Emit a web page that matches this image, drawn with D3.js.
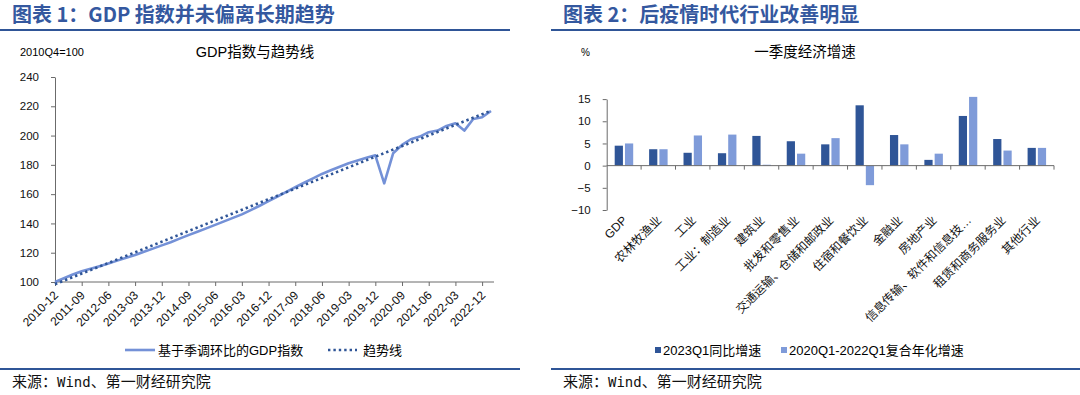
<!DOCTYPE html>
<html>
<head>
<meta charset="utf-8">
<script src="https://cdn.jsdelivr.net/npm/d3@7"></script>
<style>
    body { margin: 0; background: #fff; }
    svg { display: block; font-family: "Liberation Sans", "Noto Sans CJK SC", sans-serif; }
</style>
</head>
<body>
<svg id="chart" width="1080" height="395"></svg>
<script>
// ---- Chart 1 data: GDP index (2010Q4=100) ----
const quarters = [
    "2010-12",
    "2011-03", "2011-06", "2011-09", "2011-12",
    "2012-03", "2012-06", "2012-09", "2012-12",
    "2013-03", "2013-06", "2013-09", "2013-12",
    "2014-03", "2014-06", "2014-09", "2014-12",
    "2015-03", "2015-06", "2015-09", "2015-12",
    "2016-03", "2016-06", "2016-09", "2016-12",
    "2017-03", "2017-06", "2017-09", "2017-12",
    "2018-03", "2018-06", "2018-09", "2018-12",
    "2019-03", "2019-06", "2019-09", "2019-12",
    "2020-03", "2020-06", "2020-09", "2020-12",
    "2021-03", "2021-06", "2021-09", "2021-12",
    "2022-03", "2022-06", "2022-09", "2022-12",
    "2023-03"
];
const gdpIndex = [
    100.0,
    102.6, 105.1, 107.3, 109.0,
    110.8, 112.7, 114.6, 116.5,
    118.4, 120.6, 122.8, 125.0,
    127.2, 129.6, 132.0, 134.3,
    136.6, 139.0, 141.4, 143.8,
    146.2, 149.1, 152.1, 155.2,
    158.4, 161.6, 164.7, 167.8,
    170.8, 173.8, 176.3, 178.7,
    181.1, 183.0, 184.8, 186.5,
    167.4, 187.9, 193.6, 197.5,
    199.3, 202.3, 203.4, 206.6,
    208.4, 203.4, 211.3, 212.5,
    216.8
];
// straight trend line, start and end
const trendQuarters = ["2010-12", "2023-03"];
const trendValues = [98.5, 217.0];
const gdpTickLabels = [
    "2010-12", "2011-09", "2012-06", "2013-03", "2013-12", "2014-09",
    "2015-06", "2016-03", "2016-12", "2017-09", "2018-06", "2019-03",
    "2019-12", "2020-09", "2021-06", "2022-03", "2022-12"
];
const gdpYTicks = [100, 120, 140, 160, 180, 200, 220, 240];

// ---- Chart 2 data: Q1 growth by industry (%) ----
const industries = [
    "GDP", "农林牧渔业", "工业", "工业：制造业", "建筑业", "批发和零售业",
    "交通运输、仓储和邮政业", "住宿和餐饮业", "金融业", "房地产业",
    "信息传输、软件和信息技…", "租赁和商务服务业", "其他行业"
];
const growth2023Q1 = [4.5, 3.7, 2.9, 2.8, 6.7, 5.5, 4.8, 13.6, 6.9, 1.3, 11.2, 6.0, 4.0];
const cagr2020to2022 = [5.0, 3.7, 6.8, 7.0, 0.2, 2.7, 6.2, -4.4, 4.8, 2.7, 15.5, 3.4, 4.0];
const seriesNames = ["2023Q1同比增速", "2020Q1-2022Q1复合年化增速"];
const growthYTicks = [-10, -5, 0, 5, 10, 15];

// colours
const titleBlue = "#34589F";
const darkBlue = "#2F5597";
const lightBlue = "#7F9BD9";
const axisGrey = "#6b6b6b";

let svg = d3.select("#chart");

/** Draws the blue title, the two rules and the source line of one panel */
function drawPanelFrame(title, titleX, ruleX1, ruleX2, bottomX2) {
    svg.append("text")
        .attr("x", titleX).attr("y", 22)
        .attr("font-size", 20).attr("font-weight", "bold")
        .attr("fill", titleBlue)
        .attr("font-family", "'Noto Sans CJK SC', sans-serif")
        .text(title);
    svg.append("line")
        .attr("x1", ruleX1).attr("x2", ruleX2)
        .attr("y1", 30).attr("y2", 30)
        .attr("stroke", darkBlue).attr("stroke-width", 2);
    svg.append("line")
        .attr("x1", ruleX1).attr("x2", bottomX2)
        .attr("y1", 369).attr("y2", 369)
        .attr("stroke", darkBlue).attr("stroke-width", 2);
    // source line, "Wind" in a fixed-width face like the original
    let src = svg.append("text")
        .attr("x", titleX).attr("y", 387)
        .attr("font-size", 15)
        .attr("fill", "#111")
        .attr("font-family", "'Noto Sans CJK SC', sans-serif");
    src.append("tspan").text("来源：");
    src.append("tspan").attr("font-family", "'DejaVu Sans Mono', monospace").attr("font-size", 14).text("Wind");
    src.append("tspan").text("、第一财经研究院");
}

drawPanelFrame("图表 1：GDP 指数并未偏离长期趋势", 12, 0, 510, 520);
drawPanelFrame("图表 2：后疫情时代行业改善明显", 563, 551, 1080, 1080);

/* ---------------- Chart 1: GDP index and trend ---------------- */
let left = svg.append("g");

left.append("text")
    .attr("x", 20).attr("y", 56)
    .attr("font-size", 11)
    .text("2010Q4=100");
left.append("text")
    .attr("x", 255).attr("y", 57)
    .attr("font-size", 14.5).attr("text-anchor", "middle")
    .text("GDP指数与趋势线");

let xQ = d3.scalePoint().domain(quarters).range([55, 491]);
let yIdx = d3.scaleLinear().domain([100, 240]).range([282, 77]);

// y axis
let yAxisL = left.append("g")
    .attr("transform", "translate(55,0)")
    .call(d3.axisLeft(yIdx).tickValues(gdpYTicks).tickSize(4).tickPadding(12).tickSizeOuter(0));
yAxisL.select(".domain").attr("stroke", axisGrey);
yAxisL.selectAll(".tick line").attr("stroke", axisGrey);
yAxisL.selectAll(".tick text").attr("font-size", 11.5).attr("fill", "#111")
    .attr("font-family", "'Liberation Sans', sans-serif");

// x axis (line drawn a little past the last point, like the original)
let xAxisL = left.append("g")
    .attr("transform", "translate(0,282)")
    .call(d3.axisBottom(xQ).tickValues(gdpTickLabels).tickSize(4).tickFormat(""));
xAxisL.select(".domain").remove();
xAxisL.selectAll(".tick line").attr("stroke", axisGrey);
left.append("line")
    .attr("x1", 55).attr("x2", 494)
    .attr("y1", 282).attr("y2", 282)
    .attr("stroke", axisGrey);

left.append("g").selectAll("text")
    .data(gdpTickLabels)
    .join("text")
    .attr("transform", d => "translate(" + (xQ(d) + 4) + ",296) rotate(-45)")
    .attr("text-anchor", "end")
    .attr("font-size", 12)
    .attr("fill", "#111")
    .text(d => d);

// lines
let gdpPoints = quarters.map((q, i) => [q, gdpIndex[i]]);
let trendPoints = trendQuarters.map((q, i) => [q, trendValues[i]]);
let lineGen = d3.line().x(d => xQ(d[0])).y(d => yIdx(d[1]));

left.append("path")
    .datum(gdpPoints)
    .attr("d", lineGen)
    .attr("fill", "none")
    .attr("stroke", "#7491D7")
    .attr("stroke-width", 2.6)
    .attr("stroke-linejoin", "round");
left.append("path")
    .datum(trendPoints)
    .attr("d", lineGen)
    .attr("fill", "none")
    .attr("stroke", darkBlue)
    .attr("stroke-width", 2.6)
    .attr("stroke-dasharray", "2.4,3");

// legend
let legL = left.append("g").attr("transform", "translate(0,350)");
legL.append("line").attr("x1", 125).attr("x2", 155)
    .attr("stroke", "#7491D7").attr("stroke-width", 2.6);
legL.append("text").attr("x", 158).attr("y", 4.5)
    .attr("font-size", 13).text("基于季调环比的GDP指数");
legL.append("line").attr("x1", 328).attr("x2", 357)
    .attr("stroke", darkBlue).attr("stroke-width", 2.6)
    .attr("stroke-dasharray", "2.4,3");
legL.append("text").attr("x", 363).attr("y", 4.5)
    .attr("font-size", 13).text("趋势线");

/* ---------------- Chart 2: Q1 growth by industry ---------------- */
let right = svg.append("g");

right.append("text")
    .attr("x", 581).attr("y", 56)
    .attr("font-size", 10)
    .text("%");
right.append("text")
    .attr("x", 805).attr("y", 57)
    .attr("font-size", 14.5).attr("text-anchor", "middle")
    .text("一季度经济增速");

let xInd = d3.scaleBand().domain(industries).range([606.7, 1054]).padding(0);
let xSer = d3.scaleBand().domain([0, 1]).range([8, 26.5]).paddingInner(0.2);
let yPct = d3.scaleLinear().domain([-10, 15]).range([210, 99.1]);

let yAxisR = right.append("g")
    .attr("transform", "translate(606.7,0)")
    .call(d3.axisLeft(yPct).tickValues(growthYTicks).tickSize(4).tickPadding(12).tickSizeOuter(0));
yAxisR.select(".domain").attr("stroke", axisGrey);
yAxisR.selectAll(".tick line").attr("stroke", axisGrey);
yAxisR.selectAll(".tick text").attr("font-size", 11.5).attr("fill", "#111")
    .attr("font-family", "'Liberation Sans', sans-serif");

// bars, one group per industry
let barGroups = right.append("g").selectAll("g")
    .data(industries)
    .join("g")
    .attr("transform", d => "translate(" + xInd(d) + ",0)");
barGroups.selectAll("rect")
    .data((d, i) => [growth2023Q1[i], cagr2020to2022[i]])
    .join("rect")
    .attr("x", (v, j) => xSer(j))
    .attr("width", xSer.bandwidth())
    .attr("y", v => yPct(Math.max(0, v)))
    .attr("height", v => Math.abs(yPct(v) - yPct(0)))
    .attr("fill", (v, j) => j === 0 ? darkBlue : lightBlue);

// zero line with boundary ticks
let zeroY = yPct(0);
right.append("line")
    .attr("x1", 606.7).attr("x2", 1054)
    .attr("y1", zeroY).attr("y2", zeroY)
    .attr("stroke", axisGrey);
let boundaries = industries.map(d => xInd(d)).concat([xInd.range()[1]]);
right.append("g").selectAll("line")
    .data(boundaries.slice(1))
    .join("line")
    .attr("x1", d => d).attr("x2", d => d)
    .attr("y1", zeroY).attr("y2", zeroY + 4)
    .attr("stroke", axisGrey);

// category labels sit below the plot, rotated
right.append("g").selectAll("text")
    .data(industries)
    .join("text")
    .attr("transform", d => "translate(" + (xInd(d) + xInd.bandwidth() / 2 + 4) + ",221) rotate(-45)")
    .attr("text-anchor", "end")
    .attr("font-size", 12)
    .attr("fill", "#111")
    .text(d => d);

// legend
let legR = right.append("g").attr("transform", "translate(0,350)");
[[655, 660], [781, 786]].forEach((pos, j) => {
    legR.append("rect")
        .attr("x", pos[0]).attr("y", -3)
        .attr("width", 6).attr("height", 6)
        .attr("fill", j === 0 ? darkBlue : lightBlue);
    legR.append("text")
        .attr("x", pos[1] + 3).attr("y", 4.5)
        .attr("font-size", 13)
        .text(seriesNames[j]);
});
</script>
</body>
</html>
